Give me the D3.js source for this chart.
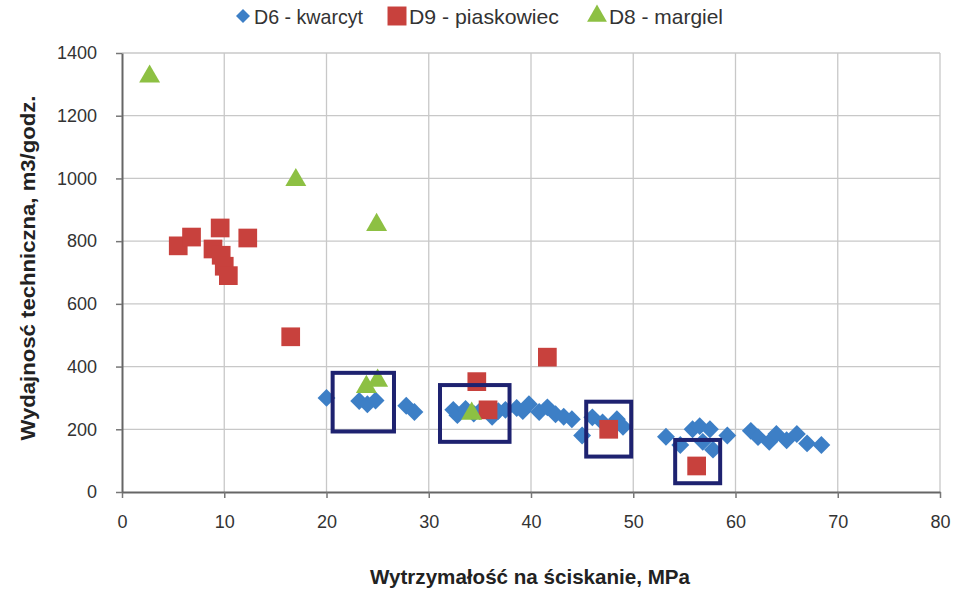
<!DOCTYPE html>
<html><head><meta charset="utf-8">
<script src="https://cdn.jsdelivr.net/npm/d3@7"></script>
<style>
body{margin:0;background:#fff;}
text{font-family:"Liberation Sans",Arial,sans-serif;}
</style></head><body>
<svg id="c" width="957" height="591"></svg>
<script>
// ---- data ----
const seriesNames = ["D6 - kwarcyt", "D9 - piaskowiec", "D8 - margiel"];
const d6 = [[20.0,300],[23.2,290],[24.0,280],[24.8,292],[27.8,275],[28.6,255],[32.4,262],[32.8,245],[33.6,265],[34.4,250],[35.0,258],[36.2,240],[36.8,258],[37.5,262],[38.6,268],[39.2,258],[39.8,280],[40.8,255],[41.6,270],[42.4,248],[43.2,240],[44.0,232],[45.0,180],[46.0,238],[47.0,222],[48.4,232],[49.0,208],[53.2,176],[54.6,150],[55.8,200],[56.5,210],[57.5,200],[56.8,160],[57.8,135],[59.2,180],[61.5,195],[62.2,175],[63.3,160],[64.0,185],[65.0,165],[66.0,185],[67.0,155],[68.4,150]];
const d9 = [[5.5,785],[6.8,813],[9.6,842],[12.3,810],[8.9,775],[9.7,755],[10.0,720],[10.4,690],[16.5,495],[34.7,352],[35.8,262],[41.6,430],[47.6,200],[56.2,83]];
const d8 = [[2.7,1325],[17.0,995],[24.9,852],[23.9,335],[25.0,355],[34.2,250]];
// highlighted regions [x0, x1, y0, y1] in data units
const boxes = [[20.6,26.6,193,380],[31.1,37.9,160,341],[45.4,49.8,113,288],[54.1,58.5,28,166]];
const xTicks = [0,10,20,30,40,50,60,70,80];
const yTicks = [0,200,400,600,800,1000,1200,1400];
const xTitle = "Wytrzymałość na ściskanie, MPa";
const yTitle = "Wydajnosć techniczna, m3/godz.";

const colors = {d6:"#3d7fc6", d9:"#c8413d", d8:"#8dc043"};

const svg = d3.select("#c");
const L=122, T=53, W=818, H=439;
const x = d3.scaleLinear().domain([0,80]).range([L,L+W]);
const y = d3.scaleLinear().domain([0,1400]).range([T+H,T]);

// grid
svg.append("g").selectAll("line").data(yTicks.slice(1)).join("line")
  .attr("x1",L).attr("x2",L+W).attr("y1",d=>y(d)).attr("y2",d=>y(d))
  .attr("stroke","#c8c8c8").attr("stroke-width",1.3);
svg.append("g").selectAll("line").data(xTicks.slice(1)).join("line")
  .attr("x1",d=>x(d)).attr("x2",d=>x(d)).attr("y1",T).attr("y2",T+H)
  .attr("stroke","#c8c8c8").attr("stroke-width",1.3);

// axes
const xa = svg.append("g").attr("transform",`translate(0,${T+H})`)
  .call(d3.axisBottom(x).tickValues(xTicks).tickFormat(d3.format("d")).tickSize(6).tickPadding(17).tickSizeOuter(0));
const ya = svg.append("g").attr("transform",`translate(${L},0)`)
  .call(d3.axisLeft(y).tickValues(yTicks).tickFormat(d3.format("d")).tickSize(6).tickPadding(19).tickSizeOuter(0));
[xa,ya].forEach(a=>{
  a.select(".domain").attr("stroke","#666").attr("stroke-width",2);
  a.selectAll(".tick line").attr("stroke","#777").attr("stroke-width",1.5);
  a.selectAll(".tick text").attr("fill","#333").style("font-size","18px")
   .style("font-family",'"Liberation Sans",Arial,sans-serif');
});

// symbols
const diamond = d3.symbol().type(d3.symbolSquare).size(160);
const square = d3.symbol().type(d3.symbolSquare).size(350);
const tri = d3.symbol().type(d3.symbolTriangle).size(190);

svg.append("g").selectAll("path").data(d6).join("path")
  .attr("d",diamond).attr("fill",colors.d6)
  .attr("transform",d=>`translate(${x(d[0])},${y(d[1])}) rotate(45)`);
svg.append("g").selectAll("path").data(d9).join("path")
  .attr("d",square).attr("fill",colors.d9)
  .attr("transform",d=>`translate(${x(d[0])},${y(d[1])})`);
svg.append("g").selectAll("path").data(d8).join("path")
  .attr("d",tri).attr("fill",colors.d8)
  .attr("transform",d=>`translate(${x(d[0])},${y(d[1])})`);

// highlight boxes
svg.append("g").selectAll("rect").data(boxes).join("rect")
  .attr("x",d=>x(d[0])).attr("y",d=>y(d[3]))
  .attr("width",d=>x(d[1])-x(d[0])).attr("height",d=>y(d[2])-y(d[3]))
  .attr("fill","none").attr("stroke","#1e2270").attr("stroke-width",4);

// titles
svg.append("text").attr("x",530).attr("y",584).attr("text-anchor","middle")
  .attr("textLength",320).attr("lengthAdjust","spacingAndGlyphs")
  .style("font-size","21px").style("font-weight","bold").attr("fill","#222").text(xTitle);
svg.append("text").attr("transform","translate(35,268) rotate(-90)").attr("text-anchor","middle")
  .attr("textLength",345).attr("lengthAdjust","spacingAndGlyphs")
  .style("font-size","21px").style("font-weight","bold").attr("fill","#222").text(yTitle);

// legend
const leg = svg.append("g");
const legItems = [
  {name:seriesNames[0], sym:d3.symbol().type(d3.symbolSquare).size(98), rot:45, c:colors.d6, sx:243, tx:254, w:109},
  {name:seriesNames[1], sym:d3.symbol().type(d3.symbolSquare).size(360), rot:0, c:colors.d9, sx:397, tx:409, w:150},
  {name:seriesNames[2], sym:d3.symbol().type(d3.symbolTriangle).size(170), rot:0, c:colors.d8, sx:597, tx:609, w:114}
];
legItems.forEach(it=>{
  leg.append("path").attr("d",it.sym).attr("fill",it.c)
    .attr("transform",`translate(${it.sx},16) rotate(${it.rot})`);
  leg.append("text").attr("x",it.tx).attr("y",24).style("font-size","21px").attr("fill","#333")
    .attr("textLength",it.w).attr("lengthAdjust","spacingAndGlyphs").text(it.name);
});
</script></body></html>
